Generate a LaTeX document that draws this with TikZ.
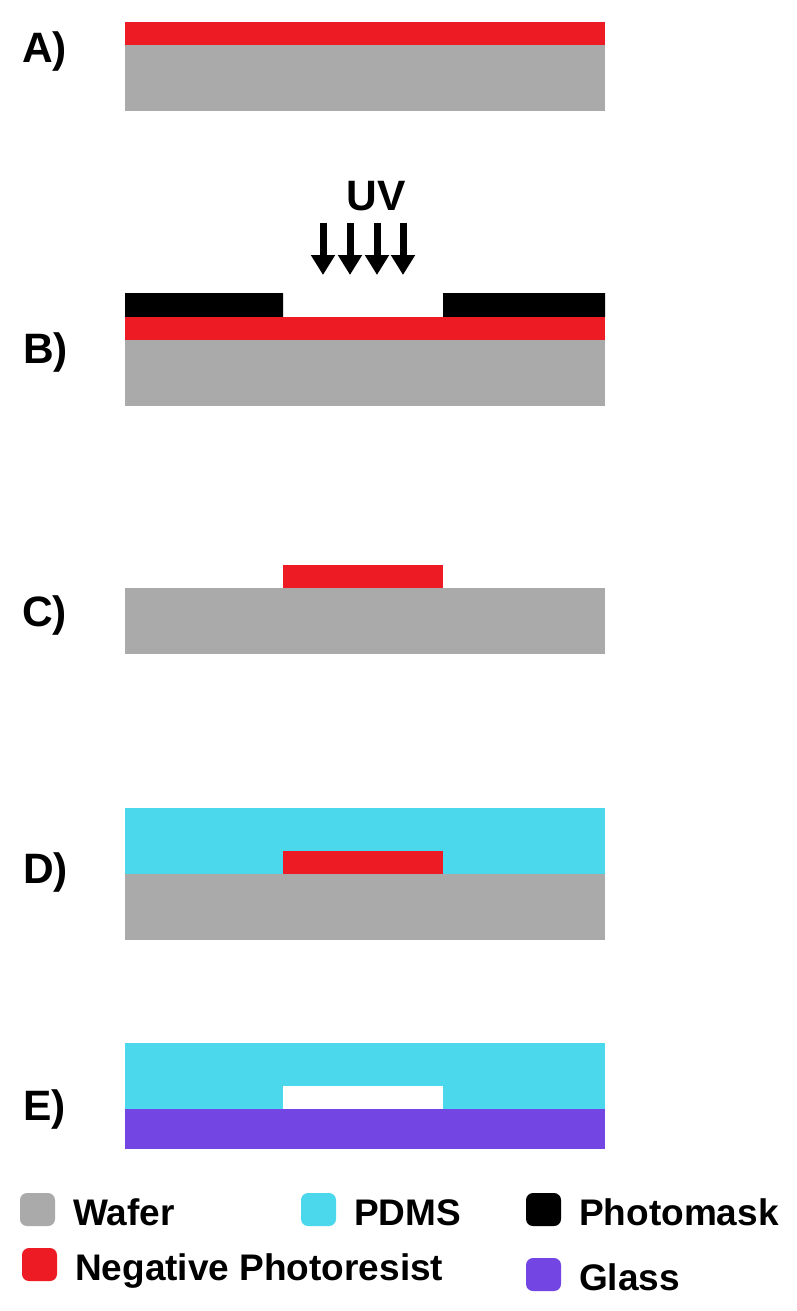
\documentclass[tikz,border=0pt]{standalone}
\usepackage{fontspec}
\setmainfont{Liberation Sans}
\usetikzlibrary{arrows.meta}
\usetikzlibrary{positioning}

\definecolor{wafer}{RGB}{170,170,170}
\definecolor{resist}{RGB}{237,27,36}
\definecolor{pdms}{RGB}{76,216,236}
\definecolor{glass}{RGB}{115,70,228}

\begin{document}
\begin{tikzpicture}[x=1pt,y=-1pt,
  steplbl/.style={font=\fontsize{42.5}{42.5}\selectfont\bfseries,anchor=base west,inner sep=0pt},
  legendtxt/.style={font=\fontsize{37}{37}\selectfont\bfseries,anchor=base west,inner sep=0pt},
  uvarrow/.style={line width=7pt,-{Triangle[width=23pt,length=20pt]}}]
\useasboundingbox[fill=white](0,0)rectangle(797,1311);

%%A
\fill[resist](125,22)rectangle(605,45);
\fill[wafer](125,45)rectangle(605,111);
\node[steplbl](LA)at(22,63){A)};

%%B
\node[steplbl,anchor=base](UV)at(376,210){UV};
\foreach \x in {323,350,377,403}
\draw[uvarrow](\x,223)--(\x,275);
\fill[black](125,293)rectangle(283,317) (443,293)rectangle(605,317);
\fill[resist](125,317)rectangle(605,340);
\fill[wafer](125,340)rectangle(605,406);
\node[steplbl](LB)at(23,363){B)};

%%C
\fill[resist](283,565)rectangle(443,588);
\fill[wafer](125,588)rectangle(605,654);
\node[steplbl](LC)at(22,626){C)};

%%D
\fill[pdms](125,808)rectangle(605,874);
\fill[resist](283,851)rectangle(443,874);
\fill[wafer](125,874)rectangle(605,940);
\node[steplbl](LD)at(23,883){D)};

%%E
\fill[pdms](125,1043)rectangle(605,1109);
\fill[white](283,1086)rectangle(443,1109);
\fill[glass](125,1109)rectangle(605,1149);
\node[steplbl](LE)at(23,1120){E)};

%Legend
\foreach \c/\x/\y/\n/\t in {wafer/20/1225/wafer/Wafer,
  resist/22/1280/resist/Negative Photoresist,
  pdms/301/1225/pdms/PDMS,
  black/526/1225/mask/Photomask,
  glass/526/1290/glass/Glass}{
\fill[\c,rounded corners=7pt](\x,\y-32)rectangle++(35,33);
\node[legendtxt](K\n)at(\x+53,\y){\t};
}
\end{tikzpicture}
\end{document}
